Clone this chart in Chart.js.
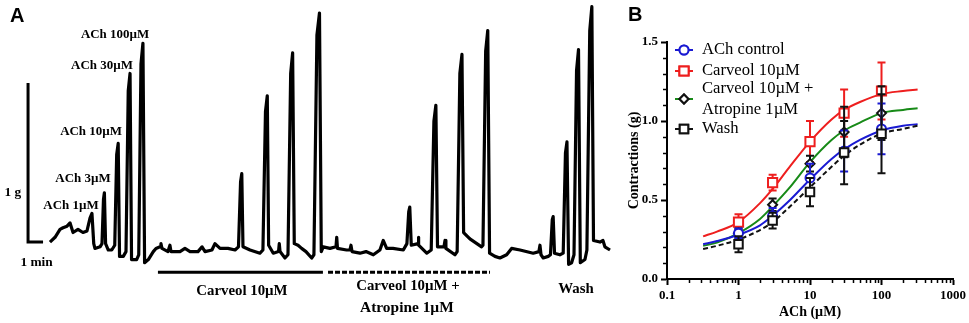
<!DOCTYPE html>
<html>
<head>
<meta charset="utf-8">
<script src="https://cdn.jsdelivr.net/npm/chart.js@4.4.1/dist/chart.umd.min.js"></script>
<style>
    html, body { margin: 0; padding: 0; background: #fff; }
    #wrap { position: relative; width: 969px; height: 323px; overflow: hidden; }
    #chartA { position: absolute; left: 0; top: 0; }
    #chartB { position: absolute; left: 622px; top: 0; }
    .panel-tag { position: absolute; font: bold 20px "Liberation Sans", Arial, sans-serif; line-height: 1; }
</style>
</head>
<body>
<div id="wrap">
    <canvas id="chartA" width="622" height="323"></canvas>
    <canvas id="chartB" width="347" height="323"></canvas>
    <div class="panel-tag" style="left:10px;top:5px">A</div>
    <div class="panel-tag" style="left:628px;top:4px">B</div>
</div>
<script>
// ========== 数据 ==========
// A: 离体肠段张力记录 (时间 min, 张力 g)
const traceTime = [
    0.13, 0.47, 0.80, 1.00, 1.27, 1.47, 1.67, 2.00, 2.33, 2.60,
    2.80, 2.93, 3.05, 3.13, 3.47, 3.60, 3.70, 3.76, 3.84,
    4.02, 4.25, 4.45, 4.58, 4.68, 4.77, 5.02,
    5.20, 5.35, 5.47, 5.57, 5.91, 6.05, 6.20, 6.33, 6.44,
    6.69, 7.02, 7.20, 7.47, 7.53, 7.60, 8.00, 8.13, 8.20, 8.80,
    9.13, 9.47, 10.00, 10.27, 10.47, 10.93, 11.13, 11.47, 12.00, 12.47,
    12.70, 12.84, 12.92, 13.00, 13.47, 14.13, 14.33, 14.50, 14.62, 14.71,
    15.02, 15.37, 15.42, 15.47, 15.80, 16.00, 16.18, 16.31, 16.42,
    16.67, 16.91, 17.20, 17.58, 17.73, 17.93, 18.10, 18.22,
    18.35, 18.80, 19.20, 19.25, 19.30, 19.91, 20.13, 20.20, 20.27, 20.80,
    21.20, 21.69, 22.13, 22.35, 22.58, 23.00, 23.69,
    23.93, 24.05, 24.12, 24.22, 24.67, 24.69, 24.73, 25.25,
    25.55, 25.73, 25.86, 25.97, 26.40, 26.47, 26.53, 27.13,
    27.28, 27.46, 27.60, 27.71, 28.13, 28.91,
    29.00, 29.18, 29.32, 29.44, 29.80, 30.13, 30.58, 30.91, 31.47,
    32.35, 32.73, 32.80, 32.87, 33.02, 33.35,
    33.50, 33.62, 33.68, 33.77, 34.13, 34.35, 34.50, 34.60, 34.71, 34.91,
    35.07, 35.24, 35.37, 35.49, 35.80, 35.93, 36.12, 36.26, 36.37,
    36.80, 37.00, 37.13, 37.47
];
const traceForce = [
    0.00, 0.03, 0.08, 0.09, 0.10, 0.12, 0.06, 0.08, 0.06, 0.07,
    0.15, 0.18, -0.01, -0.04, -0.03, -0.01, 0.27, 0.31, -0.01,
    -0.05, -0.05, -0.02, 0.55, 0.62, -0.09, -0.09,
    -0.06, 0.95, 1.06, -0.11, -0.11, -0.08, 1.12, 1.25, -0.13,
    -0.11, -0.06, -0.04, -0.03, -0.01, -0.04, -0.06, -0.02, -0.06, -0.06,
    -0.04, -0.06, -0.06, -0.03, -0.06, -0.05, -0.01, -0.04, -0.04, -0.05,
    -0.03, 0.38, 0.43, -0.03, -0.05, -0.07, -0.05, 0.82, 0.92, -0.02,
    -0.07, -0.06, -0.01, -0.06, -0.10, -0.08, 1.06, 1.19, -0.01,
    -0.02, -0.04, -0.06, -0.10, -0.08, 1.30, 1.44, -0.06,
    -0.03, -0.04, -0.03, 0.03, -0.04, -0.05, -0.05, -0.02, -0.06, -0.07,
    -0.06, -0.08, -0.05, 0.01, -0.04, -0.04, -0.05,
    -0.01, 0.19, 0.22, -0.02, -0.01, 0.03, -0.02, -0.07,
    -0.05, 0.76, 0.86, -0.03, -0.03, 0.01, -0.04, -0.08,
    -0.06, 1.06, 1.18, 0.06, 0.02, -0.03,
    -0.02, 1.20, 1.33, -0.07, -0.09, -0.10, -0.08, -0.04, -0.05,
    -0.07, -0.06, -0.02, -0.08, -0.10, -0.09,
    -0.08, 0.14, 0.16, -0.07, -0.08, -0.07, 0.56, 0.63, -0.14, -0.13,
    -0.08, 1.08, 1.21, -0.13, -0.11, -0.05, 1.33, 1.48, 0.01,
    0.00, 0.01, -0.03, -0.05
];
// 标尺: 1 g / 1 min
const scaleBarGram = 1;
const scaleBarMin = 1;
// 给药时段 (min)
const carveolPeriod = [7.33, 18.33];
const atropinePeriod = [18.67, 29.47];

// B: 量效曲线
const doses = [1, 3, 10, 30, 100];
const ctrlMean = [0.29, 0.40, 0.64, 0.81, 0.95];
const ctrlSem  = [0.03, 0.05, 0.09, 0.13, 0.16];
const carvMean = [0.36, 0.61, 0.87, 1.05, 1.19];
const carvSem  = [0.05, 0.05, 0.13, 0.15, 0.18];
const atroMean = [0.29, 0.47, 0.73, 0.93, 1.05];
const atroSem  = [0.03, 0.04, 0.05, 0.16, 0.17];
const washMean = [0.22, 0.37, 0.55, 0.80, 0.92];
const washSem  = [0.05, 0.05, 0.09, 0.20, 0.25];

// 拟合曲线
const curveX    = [0.32, 0.5, 1, 2, 3, 5, 10, 20, 30, 50, 100, 200, 320];
const ctrlCurve = [0.22, 0.24, 0.28, 0.34, 0.40, 0.49, 0.63, 0.76, 0.82, 0.88, 0.94, 0.97, 0.98];
const carvCurve = [0.27, 0.30, 0.36, 0.48, 0.57, 0.70, 0.87, 1.01, 1.07, 1.12, 1.17, 1.19, 1.20];
const atroCurve = [0.21, 0.23, 0.29, 0.38, 0.46, 0.57, 0.74, 0.88, 0.94, 0.99, 1.05, 1.07, 1.08];
const washCurve = [0.19, 0.21, 0.25, 0.31, 0.36, 0.45, 0.58, 0.71, 0.78, 0.85, 0.92, 0.95, 0.97];

const xTickMajor = [0.1, 1, 10, 100, 1000];
const xTickLabels = ['0.1', '1', '10', '100', '1000'];
const yTickMajor = [0, 0.5, 1.0, 1.5];
const yTickLabels = ['0.0', '0.5', '1.0', '1.5'];

const seriesNames = ['ACh control', 'Carveol 10\u00b5M', ['Carveol 10\u00b5M +', 'Atropine 1\u00b5M'], 'Wash'];

// ========== 样式 ==========
const SERIF = '"Liberation Serif", "Times New Roman", serif';
const BLUE = '#1a1ad2';
const RED = '#ee1e1e';
const GREEN = '#178a17';
const BLACK = '#111';

const pts = (xs, ys) => xs.map((x, i) => ({ x: x, y: ys[i] }));

// ========== A 图 ==========
// 文字标注 (数据坐标)
const traceNotes = [
    { text: 'ACh 100\u00b5M', t: 4.47, g: 1.30, size: 12, sx: 1.08 },
    { text: 'ACh 30\u00b5M', t: 3.60, g: 1.11, size: 12, sx: 1.08 },
    { text: 'ACh 10\u00b5M', t: 2.87, g: 0.69, size: 12, sx: 1.08 },
    { text: 'ACh 3\u00b5M', t: 2.33, g: 0.40, size: 12, sx: 1.08 },
    { text: 'ACh 1\u00b5M', t: 1.53, g: 0.23, size: 12, sx: 1.08 },
    { text: '1 g', t: -2.35, g: 0.31, size: 13, sx: 1.03 },
    { text: '1 min', t: -0.76, g: -0.13, size: 13, sx: 1.03 },
    { text: 'Carveol 10\u00b5M', t: 12.93, g: -0.31, size: 14, sx: 1.06 },
    { text: 'Carveol 10\u00b5M +', t: 24.0, g: -0.28, size: 14, sx: 1.06 },
    { text: 'Atropine 1\u00b5M', t: 23.93, g: -0.42, size: 14, sx: 1.1 },
    { text: 'Wash', t: 35.2, g: -0.30, size: 14, sx: 1.06 }
];
const barLevel = -0.19;
const barT0 = -1.33;

const notesPlugin = {
    id: 'notes',
    afterDraw(chart) {
        const ctx = chart.ctx;
        const xs = chart.scales.x, ys = chart.scales.y;
        ctx.save();
        ctx.fillStyle = '#000';
        ctx.textAlign = 'center';
        ctx.textBaseline = 'middle';
        traceNotes.forEach(n => {
            ctx.save();
            ctx.translate(xs.getPixelForValue(n.t), ys.getPixelForValue(n.g));
            ctx.scale(n.sx, 1);
            ctx.font = `bold ${n.size}px ${SERIF}`;
            ctx.fillText(n.text, 0, 0);
            ctx.restore();
        });
        ctx.restore();
    }
};

new Chart(document.getElementById('chartA'), {
    type: 'line',
    data: {
        datasets: [
            {
                data: pts(traceTime, traceForce),
                borderColor: '#000',
                borderWidth: 3.2,
                borderJoinStyle: 'round',
                pointRadius: 0,
                tension: 0,
                clip: false
            },
            {
                data: pts([barT0, barT0, barT0 + scaleBarMin], [scaleBarGram, 0, 0]),
                borderColor: '#000',
                borderWidth: 3,
                pointRadius: 0,
                clip: false
            },
            {
                data: pts(carveolPeriod, [barLevel, barLevel]),
                borderColor: '#000',
                borderWidth: 3,
                pointRadius: 0,
                clip: false
            },
            {
                data: pts(atropinePeriod, [barLevel, barLevel]),
                borderColor: '#000',
                borderWidth: 3,
                borderDash: [5, 2],
                pointRadius: 0,
                clip: false
            }
        ]
    },
    options: {
        responsive: false,
        animation: false,
        layout: { padding: 0 },
        scales: {
            x: { type: 'linear', display: false, min: -3.2, max: 38.27 },
            y: { type: 'linear', display: false, min: -0.509, max: 1.522 }
        },
        plugins: { legend: { display: false }, tooltip: { enabled: false } }
    },
    plugins: [notesPlugin]
});

// ========== B 图 ==========
const errorBarPlugin = {
    id: 'errorBars',
    beforeDatasetDraw(chart, args) {
        const ds = chart.data.datasets[args.index];
        if (!ds.sem) return;
        const ctx = chart.ctx;
        const xs = chart.scales.x, ys = chart.scales.y;
        ctx.save();
        ctx.strokeStyle = ds.pointBorderColor;
        ctx.lineWidth = 2;
        ds.data.forEach((p, i) => {
            const px = xs.getPixelForValue(p.x);
            const top = ys.getPixelForValue(p.y + ds.sem[i]);
            const bot = ys.getPixelForValue(p.y - ds.sem[i]);
            ctx.beginPath();
            ctx.moveTo(px, top); ctx.lineTo(px, bot);
            ctx.moveTo(px - 4, top); ctx.lineTo(px + 4, top);
            ctx.moveTo(px - 4, bot); ctx.lineTo(px + 4, bot);
            ctx.stroke();
        });
        ctx.restore();
    }
};

// 次刻度: 比主刻度短
const minorTickPlugin = {
    id: 'minorTicks',
    afterDraw(chart) {
        const ctx = chart.ctx;
        const xs = chart.scales.x, ys = chart.scales.y;
        const area = chart.chartArea;
        ctx.save();
        ctx.strokeStyle = '#000';
        ctx.lineWidth = 1.5;
        ctx.beginPath();
        xs.ticks.forEach(t => {
            if (xTickMajor.some(m => isNear(t.value, m))) return;
            const px = Math.round(xs.getPixelForValue(t.value)) + 0.5;
            ctx.moveTo(px, area.bottom);
            ctx.lineTo(px, area.bottom + 4);
        });
        ys.ticks.forEach(t => {
            if (yTickMajor.some(m => isNear(t.value, m))) return;
            const py = Math.round(ys.getPixelForValue(t.value)) + 0.5;
            ctx.moveTo(area.left, py);
            ctx.lineTo(area.left - 4, py);
        });
        ctx.stroke();
        ctx.restore();
    }
};

// 图例 (线段 + 标记)
const legendRows = [
    { y: 50, text: [50], color: BLUE, style: 'circle', r: 4.5 },
    { y: 71, text: [71], color: RED, style: 'rect', r: 6.5 },
    { y: 99, text: [89, 110], color: GREEN, style: 'rectRot', r: 4.5, border: BLACK },
    { y: 129, text: [129], color: BLACK, style: 'rect', r: 6, dash: [4, 3] }
];

const legendPlugin = {
    id: 'customLegend',
    afterDraw(chart) {
        const ctx = chart.ctx;
        ctx.save();
        legendRows.forEach((row, i) => {
            ctx.strokeStyle = row.color;
            ctx.lineWidth = 2;
            ctx.setLineDash(row.dash || []);
            ctx.beginPath();
            ctx.moveTo(53, row.y);
            ctx.lineTo(71, row.y);
            ctx.stroke();
            ctx.setLineDash([]);
            ctx.fillStyle = '#fff';
            ctx.strokeStyle = row.border || row.color;
            Chart.helpers.drawPoint(ctx, { pointStyle: row.style, radius: row.r, borderWidth: 2 }, 62, row.y);
            ctx.fill();
            Chart.helpers.drawPoint(ctx, { pointStyle: row.style, radius: row.r, borderWidth: 2 }, 62, row.y);

            const names = [].concat(seriesNames[i]);
            ctx.fillStyle = '#000';
            ctx.textAlign = 'left';
            ctx.textBaseline = 'middle';
            names.forEach((name, k) => {
                ctx.save();
                ctx.translate(80, row.text[k]);
                ctx.scale(1.04, 1);
                ctx.font = `16px ${SERIF}`;
                ctx.fillText(name, 0, 0);
                ctx.restore();
            });
        });
        ctx.restore();
    }
};

function curveSet(ys, color, dash) {
    return {
        data: pts(curveX, ys),
        borderColor: color,
        borderWidth: 2,
        borderDash: dash || [],
        pointRadius: 0,
        cubicInterpolationMode: 'monotone',
        order: 2
    };
}

function pointSet(means, sem, color, style, r, border) {
    return {
        data: pts(doses, means),
        sem: sem,
        showLine: false,
        pointStyle: style,
        pointRadius: r,
        pointBorderWidth: 2,
        pointBorderColor: border || color,
        pointBackgroundColor: '#fff',
        order: 1
    };
}

const isNear = (a, b) => Math.abs(a - b) < 1e-6 * Math.max(1, Math.abs(b));
const tickFont = { family: SERIF, size: 13, weight: 'bold' };
const hideMinor = (majors) => c => (c.tick && majors.some(m => isNear(c.tick.value, m))) ? '#000' : 'rgba(0,0,0,0)';

new Chart(document.getElementById('chartB'), {
    type: 'line',
    data: {
        datasets: [
            curveSet(washCurve, BLACK, [5, 3]),
            curveSet(ctrlCurve, BLUE),
            curveSet(atroCurve, GREEN),
            curveSet(carvCurve, RED),
            pointSet(washMean, washSem, BLACK, 'rect', 6),
            pointSet(ctrlMean, ctrlSem, BLUE, 'circle', 4.5),
            pointSet(atroMean, atroSem, BLACK, 'rectRot', 4.5),
            pointSet(carvMean, carvSem, RED, 'rect', 6.5)
        ]
    },
    options: {
        responsive: false,
        animation: false,
        layout: { padding: { left: 0, right: 14, top: 42, bottom: 0 } },
        scales: {
            x: {
                type: 'logarithmic',
                min: 0.1,
                max: 1000,
                afterBuildTicks(scale) {
                    const ticks = [];
                    xTickMajor.forEach((d, i) => {
                        ticks.push({ value: d });
                        if (i < xTickMajor.length - 1) {
                            for (let k = 2; k <= 9; k++) ticks.push({ value: k * d });
                        }
                    });
                    scale.ticks = ticks;
                },
                afterFit(scale) { scale.height = 44; },
                ticks: {
                    autoSkip: false,
                    maxRotation: 0,
                    padding: 3,
                    color: '#000',
                    font: tickFont,
                    callback(value) {
                        const i = xTickMajor.findIndex(m => isNear(value, m));
                        return i >= 0 ? xTickLabels[i] : '';
                    }
                },
                grid: {
                    display: true,
                    drawOnChartArea: false,
                    drawTicks: true,
                    tickLength: 6,
                    tickWidth: 2,
                    tickColor: hideMinor(xTickMajor)
                },
                border: { display: true, color: '#000', width: 2 },
                title: {
                    display: true,
                    text: 'ACh (\u00b5M)',
                    color: '#000',
                    font: { family: SERIF, size: 14, weight: 'bold' },
                    padding: { top: 0, bottom: 2 }
                }
            },
            y: {
                type: 'linear',
                min: 0,
                max: 1.5,
                afterBuildTicks(scale) {
                    const ticks = [];
                    for (let i = 0; i <= 15; i++) ticks.push({ value: i / 10 });
                    scale.ticks = ticks;
                },
                afterFit(scale) { scale.width = 45; },
                ticks: {
                    autoSkip: false,
                    padding: 3,
                    color: '#000',
                    font: tickFont,
                    callback(value) {
                        const i = yTickMajor.findIndex(m => isNear(value, m));
                        return i >= 0 ? yTickLabels[i] : '';
                    }
                },
                grid: {
                    display: true,
                    drawOnChartArea: false,
                    drawTicks: true,
                    tickLength: 6,
                    tickWidth: 2,
                    tickColor: hideMinor(yTickMajor)
                },
                border: { display: true, color: '#000', width: 2 },
                title: {
                    display: true,
                    text: 'Contractions (g)',
                    color: '#000',
                    font: { family: SERIF, size: 14, weight: 'bold' },
                    padding: { top: 4, bottom: 0 }
                }
            }
        },
        plugins: { legend: { display: false }, tooltip: { enabled: false } }
    },
    plugins: [errorBarPlugin, legendPlugin, minorTickPlugin]
});
</script>
</body>
</html>
